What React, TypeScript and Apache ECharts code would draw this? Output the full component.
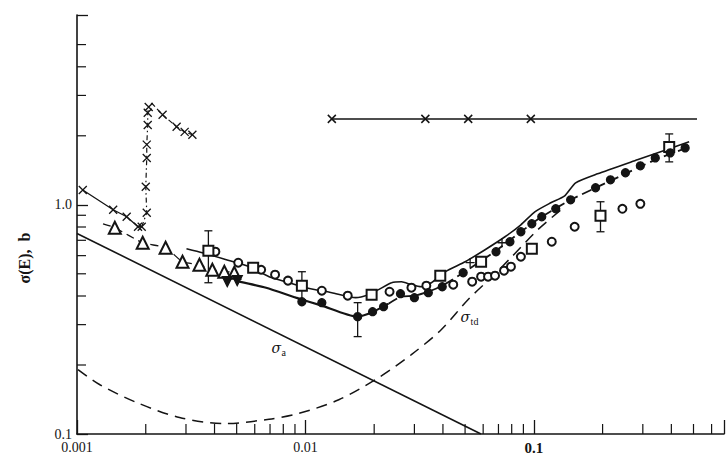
import React, { useEffect, useRef } from "react";
import * as echarts from "echarts";

// ---- axis ticks & labels ----
const xLabelValues = [0.001, 0.01, 0.1];
const xLabelTexts = ["0.001", "0.01", "0.1"];
const yLabelValues = [0.1, 1];
const yLabelTexts = ["0.1", "1.0"];
const xMinorTicks = [0.002, 0.003, 0.004, 0.005, 0.006, 0.007, 0.008, 0.009, 0.02, 0.03, 0.04, 0.05, 0.06, 0.07, 0.08, 0.09, 0.2, 0.3, 0.4, 0.5, 0.6];
const yMinorTicks = [0.2, 0.3, 0.4, 0.5, 0.6, 0.7, 0.8, 0.9, 2, 3, 4, 5];

// ---- curves ----
const sigmaA = [[0.001, 0.75], [0.0587, 0.1]];
const sigmaTd = [[0.00101, 0.191], [0.00126, 0.164], [0.00183, 0.137], [0.00281, 0.118], [0.00442, 0.111], [0.00693, 0.116], [0.00937, 0.123], [0.014, 0.141], [0.0209, 0.176], [0.0291, 0.222], [0.0393, 0.285], [0.0516, 0.386], [0.065, 0.481], [0.0794, 0.588], [0.104, 0.778], [0.1365, 0.98]];
const crossLeft = [[0.00106, 1.16], [0.00144, 0.951], [0.00165, 0.887], [0.00185, 0.802], [0.00192, 0.802]];
const crossRise = [[0.00192, 0.802], [0.00202, 0.923], [0.002, 1.198], [0.00202, 1.6], [0.00202, 1.83], [0.00204, 2.23], [0.00204, 2.52], [0.00206, 2.67], [0.00212, 2.78]];
const crossFall = [[0.00212, 2.78], [0.00237, 2.47], [0.00273, 2.19], [0.00296, 2.08], [0.0032, 2.02]];
const crossMarks = [[0.00106, 1.16], [0.00144, 0.951], [0.00165, 0.887], [0.00185, 0.802], [0.00192, 0.802], [0.00202, 0.923], [0.002, 1.198], [0.00202, 1.6], [0.00202, 1.83], [0.00204, 2.23], [0.00204, 2.52], [0.00206, 2.67], [0.00237, 2.47], [0.00273, 2.19], [0.00296, 2.08], [0.0032, 2.02]];
const crossTop = [[0.01305, 2.37], [0.0335, 2.37], [0.0516, 2.37], [0.097, 2.37], [0.518, 2.37]];
const crossTopMarks = [[0.01305, 2.37], [0.0335, 2.37], [0.0516, 2.37], [0.097, 2.37]];
const triangleLine = [[0.0013, 0.826], [0.001464, 0.794], [0.001939, 0.683], [0.002443, 0.6495], [0.002897, 0.5646], [0.003436, 0.5477], [0.003913, 0.5208], [0.004415, 0.5105], [0.004881, 0.5054], [0.00513, 0.462]];
const upperCurve = [[0.003015, 0.643], [0.00354, 0.6178], [0.004504, 0.5759], [0.005672, 0.5369], [0.006934, 0.4856], [0.008475, 0.4571], [0.01005, 0.4348], [0.01305, 0.4136], [0.0166, 0.3934], [0.01891, 0.4054], [0.02091, 0.4264], [0.02382, 0.4571], [0.02633, 0.4618], [0.02911, 0.4481], [0.03218, 0.4391], [0.03558, 0.4571], [0.04094, 0.5105], [0.05005, 0.5646], [0.06116, 0.6367], [0.07477, 0.7253], [0.08776, 0.8182], [0.101, 0.9322], [0.1186, 1.02], [0.1365, 1.094], [0.1524, 1.247], [0.1901, 1.365], [0.284, 1.571], [0.4785, 1.882]];
const lowerSolid = [[0.00513, 0.462], [0.006729, 0.4348], [0.009092, 0.3934], [0.0118, 0.363], [0.01676, 0.3251], [0.01989, 0.3418], [0.02311, 0.3704]];
const lowerDashed = [[0.02311, 0.3704], [0.02607, 0.397], [0.03, 0.401], [0.03452, 0.4176], [0.03972, 0.4437], [0.04905, 0.5054], [0.0683, 0.6304], [0.08776, 0.7627], [0.1083, 0.8866], [0.1449, 1.051], [0.2165, 1.272], [0.3401, 1.571], [0.4785, 1.789]];

// ---- data points ----
const openTriangles = [[0.001464, 0.794], [0.001939, 0.683], [0.002443, 0.6495], [0.002897, 0.5646], [0.003436, 0.5477], [0.003913, 0.5208], [0.004415, 0.5105], [0.004881, 0.5054]];
const filledDownTriangles = [[0.00455, 0.462], [0.00503, 0.4666]];
const openCircles = [[0.004034, 0.6243], [0.00508, 0.5588], [0.0064, 0.5208], [0.007364, 0.4955], [0.008387, 0.4666], [0.0118, 0.4218], [0.01532, 0.4012], [0.02335, 0.4176], [0.02911, 0.4348], [0.03383, 0.4437], [0.04437, 0.4481], [0.0537, 0.4618], [0.05876, 0.4856], [0.06303, 0.4856], [0.06762, 0.4906], [0.07403, 0.5158], [0.07938, 0.5369], [0.08776, 0.5934], [0.1198, 0.6901], [0.1509, 0.802], [0.2442, 0.9607], [0.2926, 1.01]];
const openSquares = [[0.00376, 0.6304], [0.005905, 0.5314], [0.00965, 0.4437], [0.01949, 0.4054], [0.03894, 0.4906], [0.05876, 0.5646], [0.098, 0.643], [0.1958, 0.8956], [0.3914, 1.789]];
const filledCircles = [[0.00965, 0.3778], [0.0118, 0.3741], [0.01693, 0.3251], [0.01968, 0.3418], [0.02198, 0.3594], [0.02607, 0.4095], [0.03, 0.3934], [0.03452, 0.4136], [0.03972, 0.4391], [0.04905, 0.5054], [0.0683, 0.6243], [0.07859, 0.6901], [0.08776, 0.7627], [0.098, 0.8264], [0.1083, 0.8866], [0.1247, 0.9607], [0.1449, 1.051], [0.1863, 1.186], [0.2165, 1.285], [0.2518, 1.379], [0.2926, 1.479], [0.3401, 1.602], [0.3953, 1.685], [0.4596, 1.771]];
const plusMarks = [[0.05261, 0.5588], [0.07255, 0.683]];
// [E, low, high]
const errorBars = [[0.00376, 0.457, 0.77], [0.00965, 0.3856, 0.5105], [0.01693, 0.266, 0.3741], [0.1958, 0.7627, 1.031], [0.3914, 1.539, 2.038]];

// ---- curve annotations ----
const annotationNames = ["a", "td"];
const annotationAt = [[0.00782, 0.238], [0.0526, 0.325]];

const INK = "#141414";
const SERIF = "'Liberation Serif', 'DejaVu Serif', serif";
const CROSS = "path://M0,0L10,10M10,0L0,10";
const PLUS = "path://M5,0L5,10M0,5L10,5";

function pickLabel(v: number, vals: number[], texts: string[]) {
  for (let i = 0; i < vals.length; i++) {
    if (Math.abs(Math.log10(v) - Math.log10(vals[i])) < 0.01) return texts[i];
  }
  return "";
}

export default function App() {
  const ref = useRef<HTMLDivElement>(null);
  useEffect(() => {
    if (!ref.current) return;
    const chart = echarts.init(ref.current, undefined, { renderer: "svg" });
    const lineS = (data: number[][], width: number, type: any, z = 2, smooth: any = false) => ({
      type: "line",
      data,
      showSymbol: false,
      symbol: "none",
      smooth,
      z,
      lineStyle: { color: INK, width, type, opacity: 1 },
      silent: true,
    });
    const scatterS = (data: number[][], symbol: string, size: number, extra: any = {}) => ({
      type: "scatter",
      data,
      symbol,
      symbolSize: size,
      silent: true,
      z: 5,
      itemStyle: { color: INK, borderColor: INK, borderWidth: 1.3, opacity: 1 },
      ...extra,
    });
    const strokeOnly = (w: number) => ({ itemStyle: { color: "none", borderColor: INK, borderWidth: w, opacity: 1 } });
    chart.setOption({
      animation: false,
      backgroundColor: "#ffffff",
      grid: { left: 77, right: 0, top: 15, bottom: 20.5 },
      xAxis: {
        type: "log",
        logBase: 10,
        min: 0.001,
        max: 0.68,
        axisLine: { show: true, lineStyle: { color: INK, width: 1.6 } },
        axisTick: { show: true, inside: true, length: 14, lineStyle: { color: INK, width: 1.3 } },
        splitLine: { show: false },
        axisLabel: {
          margin: 6,
          color: INK,
          fontFamily: SERIF,
          fontSize: 14,
          formatter: (v: number) => {
            const t = pickLabel(v, xLabelValues, xLabelTexts);
            return t === "0.1" ? "{b|0.1}" : t;
          },
          rich: { b: { fontFamily: SERIF, fontSize: 15, fontWeight: "bold", color: INK } },
        },
      },
      yAxis: {
        type: "log",
        logBase: 10,
        min: 0.1,
        max: 6.73,
        axisLine: { show: true, lineStyle: { color: INK, width: 1.6 } },
        axisTick: { show: true, inside: true, length: 11, lineStyle: { color: INK, width: 1.3 } },
        splitLine: { show: false },
        axisLabel: {
          margin: 5,
          color: INK,
          fontFamily: SERIF,
          fontSize: 14,
          formatter: (v: number) => pickLabel(v, yLabelValues, yLabelTexts),
        },
      },
      series: [
        // minor ticks
        {
          type: "custom",
          data: xMinorTicks.map((v) => [v, 0.1]),
          encode: { x: 0, y: 1 },
          clip: false,
          silent: true,
          z: 3,
          renderItem: (_p: any, api: any) => {
            const pt = api.coord([api.value(0), 0.1]);
            return { type: "line", shape: { x1: pt[0], y1: pt[1], x2: pt[0], y2: pt[1] - 10 }, style: { stroke: INK, lineWidth: 1.2 } };
          },
        },
        {
          type: "custom",
          data: yMinorTicks.map((v) => [0.001, v]),
          encode: { x: 0, y: 1 },
          clip: false,
          silent: true,
          z: 3,
          renderItem: (_p: any, api: any) => {
            const pt = api.coord([0.001, api.value(1)]);
            return { type: "line", shape: { x1: pt[0], y1: pt[1], x2: pt[0] + 9, y2: pt[1] }, style: { stroke: INK, lineWidth: 1.2 } };
          },
        },
        lineS(sigmaA, 1.6, "solid"),
        lineS(sigmaTd, 1.5, [11, 7], 2, 0.3),
        lineS(crossLeft, 1.3, "solid"),
        lineS(crossRise, 1.2, [5, 3, 1.5, 3]),
        lineS(crossFall, 1.2, [5, 3]),
        lineS(crossTop, 1.5, "solid"),
        lineS(triangleLine, 1.3, [8, 5], 2, 0.2),
        lineS(upperCurve, 1.6, "solid", 2, 0.2),
        lineS(lowerSolid, 2.2, "solid", 2, 0.2),
        lineS(lowerDashed, 1.8, [10, 5], 2, 0.2),
        // error bars
        {
          type: "custom",
          data: errorBars,
          encode: { x: 0, y: [1, 2] },
          silent: true,
          z: 4,
          renderItem: (_p: any, api: any) => {
            const e = api.value(0);
            const a = api.coord([e, api.value(1)]);
            const b = api.coord([e, api.value(2)]);
            const st = { stroke: INK, lineWidth: 1.3 };
            return {
              type: "group",
              children: [
                { type: "line", shape: { x1: a[0], y1: a[1], x2: b[0], y2: b[1] }, style: st },
                { type: "line", shape: { x1: a[0] - 4, y1: a[1], x2: a[0] + 4, y2: a[1] }, style: st },
                { type: "line", shape: { x1: b[0] - 4, y1: b[1], x2: b[0] + 4, y2: b[1] }, style: st },
              ],
            };
          },
        },
        scatterS(crossMarks, CROSS, 8, strokeOnly(1.3)),
        scatterS(crossTopMarks, CROSS, 8, strokeOnly(1.5)),
        scatterS(plusMarks, PLUS, 9, strokeOnly(1.3)),
        scatterS(openTriangles, "emptyTriangle", 12),
        scatterS(filledDownTriangles, "triangle", 10, { symbolRotate: 180 }),
        scatterS(openCircles, "emptyCircle", 8),
        scatterS(openSquares, "emptyRect", 10),
        scatterS(filledCircles, "circle", 8),
      ],
    });

    // axis title and curve annotations (annotation positions go through the chart's own scales)
    const notes = annotationNames.map((n, i) => {
      const p = chart.convertToPixel({ gridIndex: 0 }, annotationAt[i]) as number[];
      return {
        type: "group",
        x: p[0],
        y: p[1],
        children: [
          {
            type: "text",
            x: 0,
            y: 0,
            style: { text: "σ", fontFamily: "'DejaVu Serif', serif", fontStyle: "italic", fontSize: 14, fill: INK, textAlign: "right", textVerticalAlign: "middle" },
          },
          {
            type: "text",
            x: 0.5,
            y: 5,
            style: { text: n, fontFamily: SERIF, fontSize: 10, fill: INK, textAlign: "left", textVerticalAlign: "middle" },
          },
        ],
      };
    });
    chart.setOption({
      graphic: [
        {
          type: "text",
          x: 24,
          y: 258,
          rotation: Math.PI / 2,
          style: {
            text: "σ(E),  b",
            fontFamily: SERIF,
            fontSize: 16,
            fontWeight: "bold",
            fill: INK,
            textAlign: "center",
            textVerticalAlign: "middle",
          },
        },
        ...notes,
      ],
    });
    return () => chart.dispose();
  }, []);
  return <div ref={ref} style={{ position: "absolute", left: 0, top: 0, width: 727, height: 455 }} />;
}
